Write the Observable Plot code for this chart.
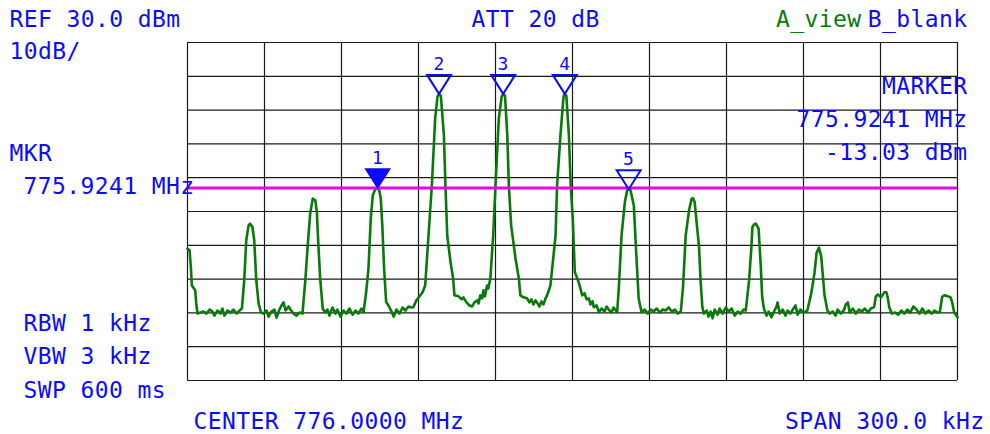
<!DOCTYPE html>
<html>
<head>
<meta charset="utf-8">
<script src="https://cdn.jsdelivr.net/npm/d3@7"></script>
<script src="https://cdn.jsdelivr.net/npm/@observablehq/plot@0.6"></script>
<style>
  html, body { margin: 0; padding: 0; background: #fff; }
  #chart svg { display: block; }
  #chart svg text { letter-spacing: 0.4px; }
</style>
</head>
<body>
<div id="chart"></div>
<script>
// ---- instrument settings (text) ----
const refText = "REF 30.0 dBm";
const scaleText = "10dB/";
const attText = "ATT 20 dB";
const traceAText = "A_view";
const traceBText = "B_blank";
const mkrLabel = "MKR";
const mkrFreqText = "775.9241 MHz";
const markerTitle = "MARKER";
const markerLevelText = "-13.03 dBm";
const rbwText = "RBW 1 kHz";
const vbwText = "VBW 3 kHz";
const swpText = "SWP 600 ms";
const centerText = "CENTER 776.0000 MHz";
const spanText = "SPAN 300.0 kHz";

// ---- scales: frequency offset from centre (kHz), level (dBm) ----
const freqDomain = [-150, 150];
const levelDomain = [-70, 30];
const freqGrid = [-150, -120, -90, -60, -30, 0, 30, 60, 90, 120, 150];
const levelGrid = [-70, -60, -50, -40, -30, -20, -10, 0, 10, 20, 30];
const markerLineLevel = [-13.03];

// ---- markers ----
const markerIds = [1, 2, 3, 4, 5];
const markerKHz = [-75.9, -52.0, -27.0, -3.0, 21.9];
const markerDbm = [-13.03, 14.8, 14.8, 14.8, -13.4];

// ---- trace A: [offset kHz, level dBm] ----
const traceSamples = [
  [-150.0,-31.0],[-149.2,-31.5],[-148.7,-36.4],[-148.3,-41.9],[-147.0,-43.3],[-146.6,-47.2],[-146.1,-50.2],
  [-144.9,-49.9],[-143.8,-49.6],[-142.6,-50.2],[-141.4,-49.0],[-140.3,-49.6],[-139.5,-50.8],[-138.3,-49.3],
  [-137.1,-50.2],[-136.4,-48.7],[-135.6,-50.8],[-134.4,-49.3],[-133.2,-49.9],[-132.1,-49.0],[-130.9,-50.2],
  [-129.7,-49.3],[-128.8,-48.7],
  [-127.9,-40.4],[-127.1,-28.5],[-126.2,-24.1],[-125.6,-23.6],[-124.7,-24.6],[-124.0,-28.5],[-123.2,-40.4],
  [-122.3,-47.2],[-121.4,-49.8],
  [-120.4,-50.2],[-119.2,-49.3],[-118.4,-51.1],[-117.3,-49.6],[-116.1,-49.0],[-115.3,-51.4],[-114.5,-49.6],
  [-113.4,-47.8],[-112.6,-46.9],[-111.8,-49.3],[-110.6,-48.1],[-109.9,-49.0],[-108.7,-50.2],[-107.5,-50.8],
  [-106.4,-49.9],[-105.2,-50.2],
  [-104.1,-40.4],[-103.2,-30.5],[-102.2,-20.6],[-101.2,-16.2],[-100.2,-16.7],[-99.6,-20.2],[-99.0,-30.0],
  [-98.3,-39.9],[-97.3,-48.8],[-96.4,-49.8],
  [-95.5,-49.0],[-94.7,-50.8],[-93.5,-48.4],[-92.3,-50.2],[-91.6,-49.0],[-90.4,-51.1],[-89.2,-49.3],
  [-88.1,-50.2],[-86.9,-48.7],[-85.7,-50.5],[-84.5,-49.3],[-83.4,-50.2],[-82.2,-48.7],[-81.4,-49.8],
  [-80.4,-43.9],[-79.5,-36.9],[-78.6,-22.1],[-77.8,-15.2],[-76.9,-13.5],[-75.9,-13.03],[-75.3,-13.7],
  [-74.7,-16.2],[-74.1,-24.1],[-73.4,-36.9],[-72.6,-46.8],[-71.7,-47.8],
  [-70.5,-49.6],[-69.7,-51.1],[-68.6,-49.0],[-67.4,-50.2],[-66.2,-48.4],[-65.1,-49.3],[-63.9,-48.1],
  [-62.7,-48.4],[-62.0,-48.3],
  [-60.8,-46.3],[-59.3,-44.8],[-58.4,-43.9],[-57.4,-41.9],[-56.1,-27.1],[-54.8,-12.3],[-53.5,7.6],
  [-52.6,14.0],[-52.0,14.8],[-51.3,14.2],[-50.1,2.5],[-49.5,-12.3],[-48.8,-27.1],[-47.5,-35.1],
  [-46.5,-39.8],[-46.0,-44.8],
  [-44.4,-45.1],[-43.2,-46.0],[-42.5,-45.4],[-41.3,-46.9],[-40.1,-47.8],[-39.1,-48.1],[-38.2,-46.9],
  [-37.1,-46.3],[-36.6,-47.2],[-35.9,-44.8],[-35.2,-45.7],[-34.7,-43.3],[-34.1,-45.1],[-33.3,-41.9],
  [-32.8,-42.8],[-32.0,-39.8],
  [-30.9,-27.1],[-30.0,-12.3],[-28.7,7.6],[-27.6,14.0],[-27.0,14.8],[-26.3,14.2],[-25.4,2.5],
  [-24.8,-12.3],[-23.9,-24.1],[-22.2,-33.9],[-20.9,-39.8],[-20.3,-44.8],
  [-19.1,-45.4],[-17.7,-45.7],[-16.8,-46.9],[-16.0,-46.0],[-15.2,-47.5],[-14.4,-46.3],[-13.6,-47.2],
  [-12.9,-48.1],[-12.1,-46.6],[-11.3,-47.5],[-10.5,-45.7],[-9.9,-44.8],[-8.6,-41.9],
  [-6.6,-27.1],[-6.0,-12.3],[-4.7,2.5],[-3.5,14.0],[-3.0,14.8],[-2.4,14.2],[-1.4,2.5],[-0.7,-12.3],
  [0.1,-22.0],[0.9,-37.9],[2.4,-40.9],[3.8,-44.8],
  [4.7,-44.2],[5.5,-46.0],[6.4,-45.7],[7.0,-47.5],[7.8,-46.6],[8.3,-48.3],[9.4,-47.8],[10.3,-49.8],
  [11.3,-48.7],[12.5,-49.6],[13.3,-48.1],[14.1,-49.0],[15.2,-49.9],[16.0,-48.4],[17.4,-49.8],
  [18.1,-41.9],[19.1,-27.1],[20.4,-17.2],[21.3,-13.7],[21.9,-13.4],[22.6,-13.7],[23.9,-18.2],
  [24.8,-32.0],[25.8,-45.8],[26.9,-49.8],
  [28.1,-49.0],[29.3,-50.2],[30.5,-49.0],[31.6,-49.6],[32.8,-48.7],[34.0,-49.9],[35.2,-49.0],
  [36.3,-49.3],[37.5,-48.4],[38.7,-49.6],[39.9,-49.0],[41.0,-50.2],[42.2,-49.6],
  [43.1,-41.9],[44.1,-27.1],[45.4,-19.7],[46.4,-16.2],[47.0,-16.1],[47.6,-17.2],[48.4,-23.6],
  [49.3,-30.5],[49.9,-40.4],[50.6,-48.3],[51.2,-50.2],
  [52.3,-49.3],[53.0,-51.1],[53.8,-49.6],[54.6,-51.6],[55.4,-49.0],[56.5,-50.5],[57.3,-48.7],
  [58.5,-50.2],[59.7,-48.4],[60.9,-49.6],[62.0,-48.7],[63.2,-50.8],[64.4,-49.6],[65.5,-50.2],
  [66.7,-49.0],[67.5,-49.3],
  [68.8,-40.4],[69.7,-30.5],[70.1,-24.6],[70.8,-23.8],[71.4,-23.6],[72.5,-25.1],[73.3,-35.4],
  [73.9,-45.3],[74.6,-48.8],
  [75.6,-50.8],[76.4,-49.6],[77.5,-51.3],[78.7,-49.3],[79.5,-48.1],[79.9,-46.9],[80.7,-50.2],
  [81.9,-49.0],[83.0,-50.8],[83.8,-49.3],[84.9,-50.2],[86.1,-48.7],[86.9,-47.8],[87.7,-50.5],
  [88.8,-49.0],[90.0,-49.9],[91.5,-49.3],
  [93.0,-44.3],[94.3,-38.1],[95.1,-32.2],[96.0,-30.7],[96.9,-33.2],[97.7,-40.4],[98.2,-44.8],
  [99.3,-49.3],
  [100.2,-50.2],[101.4,-49.6],[102.5,-50.8],[103.3,-49.0],[104.5,-50.2],[105.7,-49.3],[106.5,-47.5],
  [107.3,-46.9],[108.0,-49.9],[109.2,-48.7],[110.4,-50.2],[111.6,-49.0],[112.7,-49.6],[113.9,-48.7],
  [115.1,-49.9],[116.2,-48.7],[117.5,-48.3],
  [118.2,-45.1],[119.0,-44.5],[120.2,-45.4],[121.5,-43.9],[122.3,-43.9],[122.8,-45.4],[123.4,-48.3],
  [124.4,-50.2],
  [125.7,-49.9],[126.9,-50.5],[128.1,-49.3],[129.3,-50.2],[130.5,-49.0],[131.6,-49.9],[132.8,-48.1],
  [134.0,-49.0],[135.2,-50.2],[136.3,-48.7],[137.5,-50.2],[138.7,-49.3],[139.9,-50.2],[141.1,-49.3],
  [142.2,-49.9],[143.1,-49.8],
  [144.0,-45.3],[144.9,-44.8],[146.3,-45.1],[147.3,-45.4],[147.9,-46.8],[148.7,-49.8],[150.0,-51.3]
];

const trace = traceSamples.map(([f, L]) => ({f, L}));
const markers = markerIds.map((id, i) => ({id: String(id), f: markerKHz[i], L: markerDbm[i]}));

const BLUE = "#0b0bff";
const GREEN = "#087a08";
const MAGENTA = "#ee00ee";
const FONT = "DejaVu Sans Mono";

const W = 990, H = 434, ML = 187, MR = 33, MT = 42, MB = 54;

// downward-pointing triangle whose tip sits on the marker point
const downTriangle = {
  draw(ctx) {
    ctx.moveTo(0, 0);
    ctx.lineTo(-12, -19);
    ctx.lineTo(12, -19);
    ctx.closePath();
  }
};

function note(str, px, baseline, anchor, color) {
  return Plot.text([str], {
    text: d => d,
    frameAnchor: "top-left",
    dx: px - ML,
    dy: baseline - MT,
    textAnchor: anchor,
    lineAnchor: "bottom",
    fill: color || BLUE,
    fontFamily: FONT,
    fontSize: 23
  });
}

const chart = Plot.plot({
  width: W,
  height: H,
  marginLeft: ML,
  marginRight: MR,
  marginTop: MT,
  marginBottom: MB,
  x: {domain: freqDomain, axis: null},
  y: {domain: levelDomain, axis: null},
  style: {background: "#fff"},
  marks: [
    Plot.ruleX(freqGrid, {stroke: "#1a1a1a", strokeWidth: 1.2}),
    Plot.ruleY(levelGrid, {stroke: "#1a1a1a", strokeWidth: 1.2}),
    Plot.line(trace, {x: "f", y: "L", stroke: GREEN, strokeWidth: 2.6, strokeLinejoin: "round"}),
    Plot.ruleY(markerLineLevel, {stroke: MAGENTA, strokeWidth: 3}),
    Plot.dot(markers.filter(d => d.id === "1"), {x: "f", y: "L", symbol: downTriangle, fill: BLUE, stroke: BLUE, strokeWidth: 1.5}),
    Plot.dot(markers.filter(d => d.id !== "1"), {x: "f", y: "L", symbol: downTriangle, fill: "none", stroke: BLUE, strokeWidth: 2}),
    Plot.text(markers, {x: "f", y: "L", text: "id", dy: -24, lineAnchor: "bottom", fill: BLUE, fontFamily: FONT, fontSize: 18}),
    note(refText, 9, 26.5, "start"),
    note(scaleText, 9, 58.5, "start"),
    note(attText, 471, 26.5, "start"),
    note(traceAText, 861, 26.5, "end", GREEN),
    note(traceBText, 967, 26.5, "end"),
    note(markerTitle, 967, 93.5, "end"),
    note(mkrFreqText, 967, 126, "end"),
    note(markerLevelText, 967, 159.5, "end"),
    note(mkrLabel, 9, 160, "start"),
    note(mkrFreqText, 23, 193.5, "start"),
    note(rbwText, 23, 330, "start"),
    note(vbwText, 23, 363, "start"),
    note(swpText, 23, 397, "start"),
    note(centerText, 193, 428.5, "start"),
    note(spanText, 984, 428.5, "end")
  ]
});

document.getElementById("chart").appendChild(chart);
</script>
</body>
</html>
